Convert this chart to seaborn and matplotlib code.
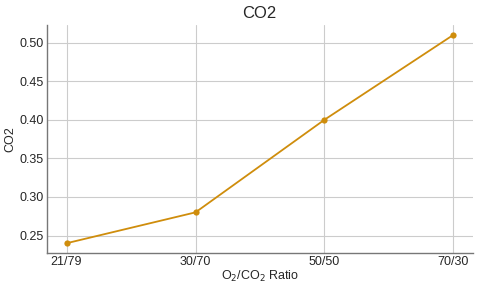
import matplotlib
matplotlib.use('Agg')
import matplotlib.pyplot as plt
import pandas as pd
import seaborn as sns

# Data
ratios = ['21/79', '30/70', '50/50', '70/30']
co2 = [0.24, 0.28, 0.40, 0.51]

df = pd.DataFrame({'ratio': ratios, 'co2': co2})

sns.set_theme(style='whitegrid')
plt.rcParams['font.family'] = ['Liberation Sans', 'DejaVu Sans']

fig, ax = plt.subplots(figsize=(4.8, 2.89), dpi=100)
fig.subplots_adjust(left=0.097, right=0.985, top=0.915, bottom=0.125)

sns.lineplot(
   ax = ax,
   data = df,
   x = 'ratio',
   y = 'co2',
   sort = False,
   color = '#cf8d0c',
   marker = 'o',
   markersize = 4.5,
   markeredgewidth = 0,
   linewidth = 1.3)

ax.set_xlim(-0.155, 3.15)
ax.set_ylim(0.2275, 0.5233)
ax.set_yticks([0.25, 0.30, 0.35, 0.40, 0.45, 0.50])
ax.set_title('CO2', fontsize=12, pad=5)
ax.set_xlabel('O$_2$/CO$_2$ Ratio', fontsize=9, labelpad=1)
ax.set_ylabel('CO2', fontsize=9, labelpad=2)
ax.tick_params(labelsize=9, pad=2, length=0)
ax.grid(True, color='#cccccc', linewidth=0.8)
sns.despine(ax=ax)
for s in ['left', 'bottom']:
   ax.spines[s].set_color('#777777')
   ax.spines[s].set_linewidth(1.0)

fig.savefig('out.png', dpi=100)
